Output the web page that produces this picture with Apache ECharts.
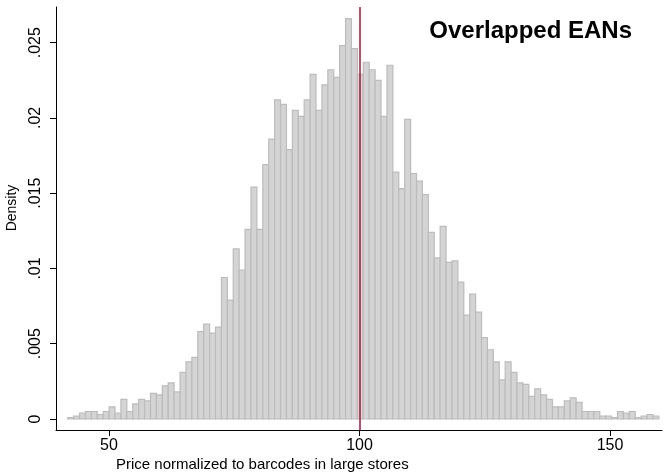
<!DOCTYPE html>
<html>
<head>
<meta charset="utf-8">
<script src="https://cdn.jsdelivr.net/npm/echarts@6/dist/echarts.min.js"></script>
<style>
  html, body { margin: 0; padding: 0; background: #fff; }
  #chart-container { width: 667px; height: 476px; }
</style>
</head>
<body>
<div id="chart-container"></div>
<script>
// histogram bins (100 bins)
const binStart = 41.76;
const binWidth = 1.18;
const densities = [
  0.0001, 0.0002, 0.0004, 0.0005, 0.0005, 0.0003, 0.0005, 0.0008, 0.0004, 0.0013,
  0.0005, 0.0010, 0.0013, 0.0012, 0.0017, 0.0016, 0.0022, 0.0024, 0.0018, 0.0031,
  0.0038, 0.0041, 0.0058, 0.0063, 0.0057, 0.0061, 0.0094, 0.0079, 0.0113, 0.0099,
  0.0126, 0.0154, 0.0126, 0.0169, 0.0186, 0.0212, 0.0209, 0.0179, 0.0205, 0.0201,
  0.0212, 0.0229, 0.0205, 0.0222, 0.0232, 0.0227, 0.0248, 0.0266, 0.0246, 0.0229,
  0.0237, 0.0232, 0.0225, 0.0201, 0.0235, 0.0164, 0.0153, 0.0199, 0.0163, 0.0158,
  0.0149, 0.0124, 0.0107, 0.0128, 0.0104, 0.0105, 0.0091, 0.0069, 0.0083, 0.0071,
  0.0054, 0.0046, 0.0038, 0.0026, 0.0038, 0.0031, 0.0024, 0.0023, 0.0015, 0.0020,
  0.0016, 0.0013, 0.0008, 0.0008, 0.0012, 0.0014, 0.0011, 0.0005, 0.0005, 0.0005,
  0.0002, 0.0002, 0.0001, 0.0005, 0.0004, 0.0005, 0.0001, 0.0002, 0.0003, 0.0002
];
const refLine = 100;

const xTickValues = [50, 100, 150];
const yTickValues = [0, 0.005, 0.01, 0.015, 0.02, 0.025];
const yTickLabels = ['0', '.005', '.01', '.015', '.02', '.025'];

const titleText = 'Overlapped EANs';
const xTitle = 'Price normalized to barcodes in large stores';
const yTitle = 'Density';

const fontFam = '"Liberation Sans", Arial, sans-serif';

// [left edge, right edge, density]
let data = [];
for (let i = 0; i < densities.length; i++) {
    data.push([binStart + i * binWidth, binStart + (i + 1) * binWidth, densities[i]]);
}

const chartDom = document.getElementById('chart-container');
const myChart = echarts.init(chartDom, null, { renderer: 'canvas' });

const option = {
    animation: false,
    backgroundColor: '#fff',
    title: [
        {
            text: titleText,
            right: 30,
            top: 14,
            textStyle: { fontFamily: fontFam, fontSize: 24, fontWeight: 'bold', color: '#000' }
        },
        {
            // axis title sits left of centre in the original (cropped graph)
            text: xTitle,
            left: 116,
            top: 457,
            padding: 0,
            textStyle: { fontFamily: fontFam, fontSize: 15, fontWeight: 'normal', color: '#000' }
        }
    ],
    graphic: [
        {
            type: 'text',
            x: 12,
            y: 208,
            rotation: Math.PI / 2,
            style: {
                text: yTitle,
                fontFamily: fontFam,
                fontSize: 14,
                fill: '#000',
                textAlign: 'center',
                textVerticalAlign: 'middle'
            }
        }
    ],
    grid: { left: 56, right: 5, top: 7, bottom: 46 },
    xAxis: {
        type: 'value',
        min: 39.42,
        max: 160.38,
        axisLine: { onZero: false, lineStyle: { color: '#000', width: 1 } },
        axisTick: { customValues: xTickValues, length: 6, lineStyle: { color: '#000' } },
        axisLabel: { customValues: xTickValues, fontFamily: fontFam, fontSize: 16, color: '#000', margin: 8 },
        splitLine: { show: false }
    },
    yAxis: {
        type: 'value',
        min: -0.00073,
        max: 0.02737,
        axisLine: { show: true, onZero: false, lineStyle: { color: '#000', width: 1 } },
        axisTick: { show: true, customValues: yTickValues, length: 6, lineStyle: { color: '#000' } },
        axisLabel: {
            customValues: yTickValues,
            rotate: 90,
            margin: 12,
            fontFamily: fontFam,
            fontSize: 16,
            color: '#000',
            formatter: function (value) {
                const idx = yTickValues.findIndex(v => Math.abs(v - value) < 1e-9);
                return idx >= 0 ? yTickLabels[idx] : '';
            }
        },
        splitLine: { show: false }
    },
    series: [
        {
            name: 'Histogram',
            type: 'custom',
            data: data,
            renderItem: function (params, api) {
                const p0 = api.coord([api.value(0), api.value(2)]);
                const p1 = api.coord([api.value(1), 0]);
                return {
                    type: 'rect',
                    shape: { x: p0[0], y: p0[1], width: p1[0] - p0[0], height: p1[1] - p0[1] },
                    style: { fill: '#d4d4d4', stroke: '#bcbcbc', lineWidth: 1.2 }
                };
            },
            markLine: {
                silent: true,
                symbol: ['none', 'none'],
                label: { show: false },
                lineStyle: { color: '#b0103a', width: 1.5, type: 'solid' },
                data: [{ xAxis: refLine }]
            }
        }
    ]
};
myChart.setOption(option);
</script>
</body>
</html>
